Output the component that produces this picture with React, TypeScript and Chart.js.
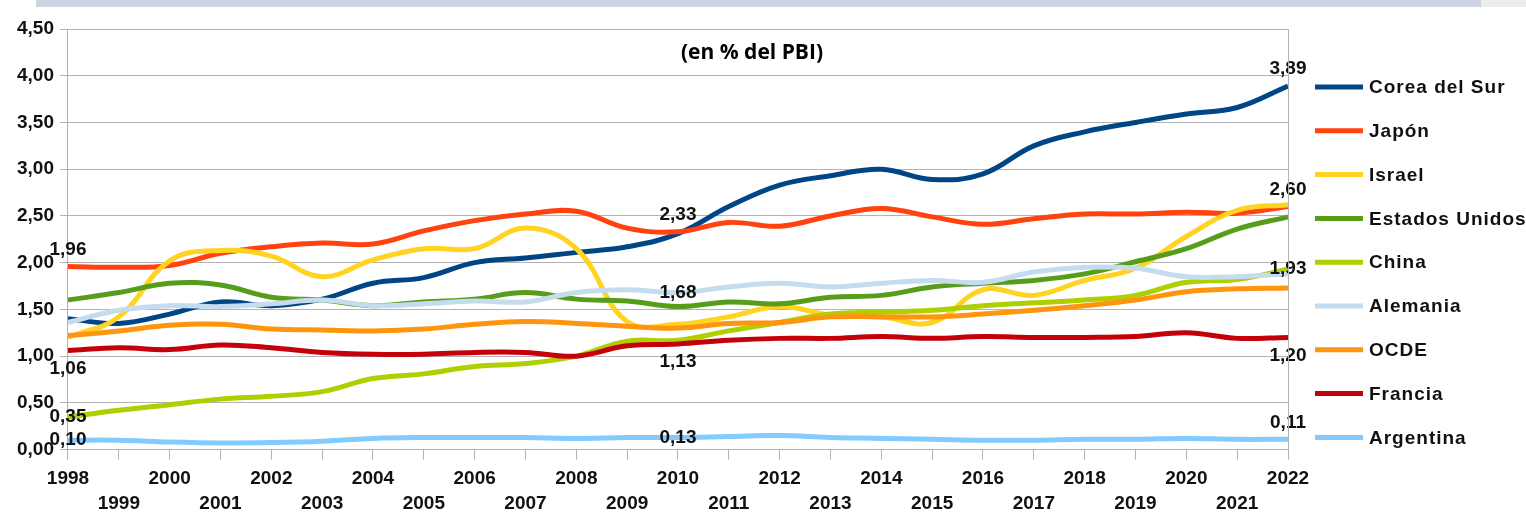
import React, { useEffect, useRef } from "react";
import { Chart, registerables } from "chart.js";

Chart.register(...registerables);

const years = ["1998","1999","2000","2001","2002","2003","2004","2005","2006","2007","2008","2009","2010","2011","2012","2013","2014","2015","2016","2017","2018","2019","2020","2021","2022"];

const seriesNames = ["Corea del Sur","Japón","Israel","Estados Unidos","China","Alemania","OCDE","Francia","Argentina"];
const seriesColors = ["#004586","#ff420e","#ffd320","#579d1c","#aecf00","#c5dcef","#ff950e","#c5000b","#83caff"];

const corea = [1.40,1.35,1.45,1.58,1.54,1.61,1.78,1.84,2.00,2.05,2.11,2.17,2.31,2.60,2.83,2.93,3.00,2.89,2.95,3.25,3.40,3.50,3.59,3.66,3.89];
const japon = [1.96,1.95,1.97,2.10,2.17,2.21,2.20,2.34,2.45,2.52,2.55,2.37,2.33,2.43,2.39,2.50,2.58,2.49,2.41,2.47,2.52,2.52,2.54,2.53,2.60];
const israel = [1.20,1.42,2.02,2.13,2.07,1.85,2.03,2.15,2.15,2.37,2.15,1.37,1.34,1.42,1.53,1.44,1.42,1.36,1.71,1.65,1.81,1.94,2.28,2.56,2.62];
const eeuu = [1.60,1.68,1.78,1.76,1.63,1.60,1.54,1.58,1.61,1.68,1.61,1.59,1.53,1.58,1.56,1.63,1.65,1.74,1.78,1.81,1.88,2.01,2.15,2.36,2.49];
const china = [0.35,0.42,0.48,0.54,0.57,0.62,0.76,0.81,0.89,0.92,1.00,1.16,1.17,1.27,1.36,1.45,1.47,1.49,1.54,1.57,1.60,1.65,1.79,1.82,1.93];
const alemania = [1.36,1.49,1.54,1.53,1.56,1.60,1.54,1.56,1.59,1.58,1.68,1.71,1.68,1.74,1.78,1.74,1.78,1.81,1.79,1.90,1.95,1.94,1.85,1.85,1.88];
const ocde = [1.22,1.27,1.33,1.34,1.29,1.28,1.27,1.29,1.34,1.37,1.35,1.32,1.30,1.35,1.36,1.42,1.42,1.42,1.45,1.49,1.54,1.60,1.69,1.72,1.73];
const francia = [1.06,1.09,1.07,1.12,1.09,1.04,1.02,1.02,1.04,1.04,1.00,1.11,1.13,1.17,1.19,1.19,1.21,1.19,1.21,1.20,1.20,1.21,1.25,1.19,1.20];
const argentina = [0.10,0.10,0.08,0.07,0.075,0.09,0.12,0.13,0.13,0.13,0.12,0.13,0.13,0.14,0.15,0.13,0.12,0.11,0.10,0.10,0.11,0.11,0.12,0.11,0.11];

const seriesValues = [corea, japon, israel, eeuu, china, alemania, ocde, francia, argentina];

const yTicks = [0, 0.5, 1, 1.5, 2, 2.5, 3, 3.5, 4, 4.5];

// data labels: [series index, year index, placement]
const valueLabels: [number, number, string][] = [
  [1, 0, "above"], [7, 0, "below"], [4, 0, "center"], [8, 0, "center"],
  [1, 12, "above"], [5, 12, "center"], [7, 12, "below"], [8, 12, "center"],
  [0, 24, "above"], [1, 24, "above"], [4, 24, "center"], [7, 24, "below"], [8, 24, "above"],
];

const subtitle = "(en % del PBI)";

const fmt = (v: number) => v.toFixed(2).replace(".", ",");
const FONT = "'Liberation Sans', Arial, sans-serif";

export default function App() {
  const ref = useRef<HTMLCanvasElement | null>(null);

  useEffect(() => {
    if (!ref.current) return;

    const decoPlugin = {
      id: "deco",
      beforeDraw(chart: any) {
        const ctx = chart.ctx;
        ctx.save();
        ctx.fillStyle = "#cdd3e0";
        ctx.fillRect(36, 0, 1445, 7);
        ctx.fillStyle = "#ececec";
        ctx.fillRect(1481, 0, 45, 7);
        ctx.restore();
      },
      afterDraw(chart: any) {
        const ctx = chart.ctx;
        const a = chart.chartArea;
        ctx.save();
        ctx.strokeStyle = "#b3b3b3";
        ctx.lineWidth = 1;
        ctx.beginPath();
        ctx.moveTo(Math.round(a.right) + 0.5, a.top);
        ctx.lineTo(Math.round(a.right) + 0.5, a.bottom);
        ctx.stroke();
        ctx.fillStyle = "#000";
        ctx.font = "bold 21px 'Open Sans', sans-serif";
        ctx.textAlign = "center";
        ctx.textBaseline = "middle";
        ctx.fillText(subtitle, 752, 53);
        const x0 = 1315, x1 = 1363, tx = 1369, y0 = 87, dy = 43.8;
        ctx.font = `bold 19px ${FONT}`;
        (ctx as any).letterSpacing = "1px";
        ctx.textAlign = "left";
        seriesNames.forEach((name, i) => {
          const y = y0 + i * dy;
          ctx.strokeStyle = seriesColors[i];
          ctx.lineWidth = 5;
          ctx.beginPath();
          ctx.moveTo(x0, y);
          ctx.lineTo(x1, y);
          ctx.stroke();
          ctx.fillStyle = "#111";
          ctx.fillText(name, tx, y + 1);
        });
        ctx.restore();
      },
      afterDatasetsDraw(chart: any) {
        const ctx = chart.ctx;
        const xs = chart.scales.x;
        const ys = chart.scales.y;
        ctx.save();
        ctx.font = `bold 19px ${FONT}`;
        ctx.fillStyle = "#111";
        ctx.textAlign = "center";
        ctx.textBaseline = "middle";
        valueLabels.forEach(([s, i, pos]) => {
          const v = seriesValues[s][i];
          const x = xs.getPixelForValue(i);
          const y = ys.getPixelForValue(v);
          const off = pos === "above" ? -17 : pos === "below" ? 18 : 0;
          ctx.fillText(fmt(v), x, y + off);
        });
        ctx.restore();
      },
    };

    const chart = new Chart(ref.current, {
      type: "line",
      data: {
        labels: years,
        datasets: seriesNames.map((name, i) => ({
          label: name,
          data: seriesValues[i],
          borderColor: seriesColors[i],
          backgroundColor: seriesColors[i],
          borderWidth: 5,
          pointRadius: 0,
          tension: 0.4,
          fill: false,
          order: -i,
        })),
      },
      options: {
        animation: false,
        responsive: false,
        maintainAspectRatio: false,
        layout: { padding: { left: 11, right: 238, top: 29, bottom: 0 } },
        plugins: {
          legend: { display: false },
          tooltip: { enabled: false },
        },
        scales: {
          x: {
            type: "category",
            offset: false,
            grid: { drawOnChartArea: false, drawTicks: true, tickLength: 10, color: "#b3b3b3" },
            border: { color: "#b3b3b3" },
            ticks: {
              autoSkip: false,
              maxRotation: 0,
              minRotation: 0,
              padding: 7,
              color: "#111",
              font: { family: FONT, size: 19, weight: "bold", lineHeight: 1.3 },
              callback: function (this: any, value: any, index: number) {
                const lbl = years[index];
                return index % 2 === 0 ? lbl : ["", lbl];
              },
            },
          },
          y: {
            min: 0,
            max: 4.5,
            afterBuildTicks: (axis: any) => {
              axis.ticks = yTicks.map((v) => ({ value: v }));
            },
            grid: { color: "#b3b3b3", tickLength: 8 },
            border: { color: "#b3b3b3" },
            ticks: {
              padding: 6,
              color: "#111",
              font: { family: FONT, size: 19, weight: "bold" },
              callback: (v: any) => fmt(Number(v)),
            },
          },
        },
      },
      plugins: [decoPlugin],
    });

    return () => chart.destroy();
  }, []);

  return (
    <div style={{ position: "fixed", left: 0, top: 0, width: 1526, height: 514, overflow: "hidden", background: "#fff" }}>
      <canvas ref={ref} width={1526} height={523} style={{ width: 1526, height: 523, display: "block" }} />
    </div>
  );
}
